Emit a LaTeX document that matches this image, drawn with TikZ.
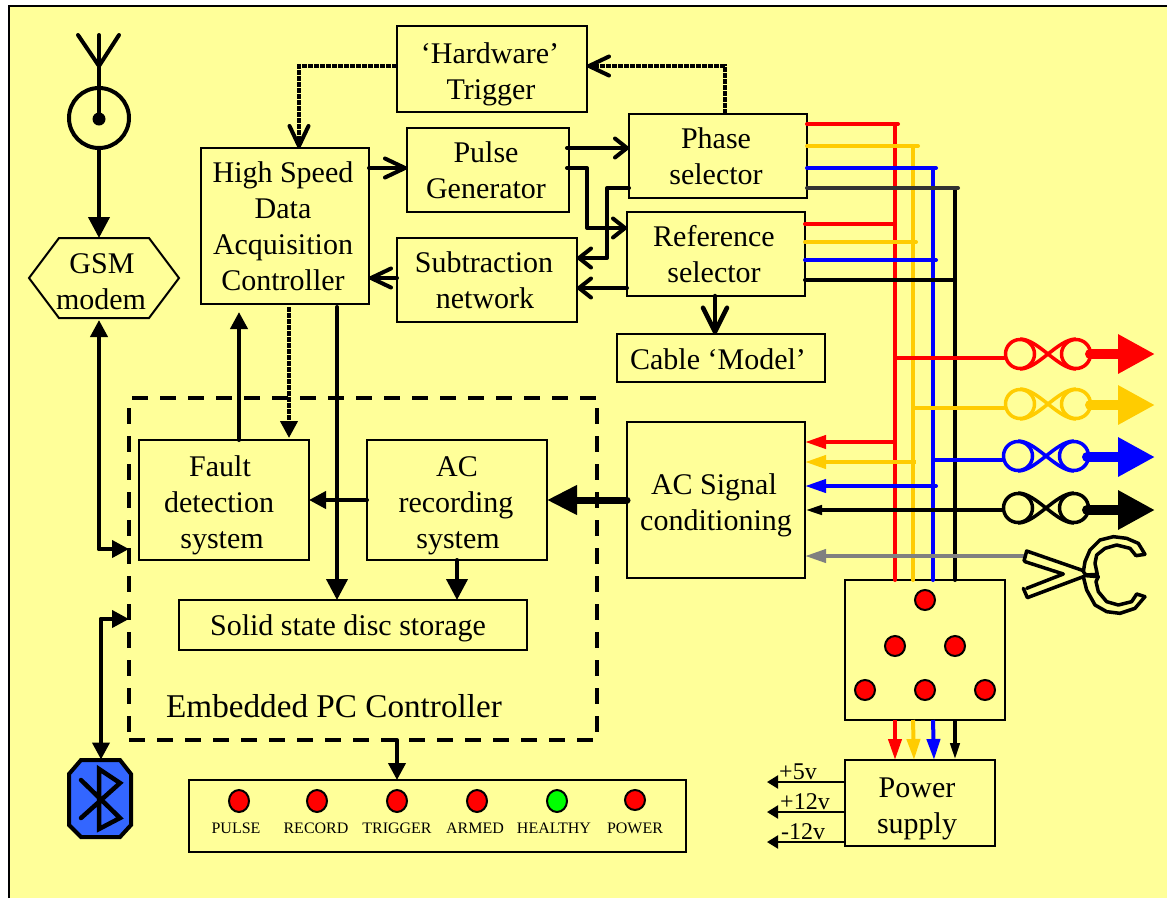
\documentclass[tikz,border=0pt]{standalone}
\usepackage{fontspec}
\setmainfont{Liberation Serif}
\usetikzlibrary{arrows.meta,shapes.geometric}
\definecolor{bgy}{HTML}{FFFF99}
\definecolor{wyel}{HTML}{FFCC00}
\definecolor{wdark}{HTML}{333333}
\definecolor{wgrey}{HTML}{808080}
\definecolor{btblue}{HTML}{3366FF}
\newcommand{\shx}[1]{\leavevmode\kern#1pt\kern#1pt\relax}
\newcommand{\firstl}[1]{\rule{0pt}{\dimexpr 20.5pt+#1pt+#1pt\relax}}
\tikzset{
  sz/.style 2 args={minimum width=#1pt,minimum height=#2pt},
  blk/.style={draw=black,line width=2pt,inner sep=0pt,outer sep=0pt,align=center,text=black,
    font=\fontsize{30}{36}\selectfont},
  txt/.style={inner sep=0pt,outer sep=0pt,align=center,text=black,font=\fontsize{30}{36}\selectfont},
  small/.style={inner sep=0pt,outer sep=0pt,text=black,font=\fontsize{16}{18}\selectfont},
  volt/.style={inner sep=0pt,outer sep=0pt,text=black,font=\fontsize{24}{26}\selectfont},
  led/.style={circle,draw=black,line width=2pt,fill=red,minimum size=20pt,inner sep=0pt,outer sep=0pt},
  ledo/.style={ellipse,draw=black,line width=2pt,fill=red,minimum width=20pt,minimum height=22pt,inner sep=0pt,outer sep=0pt},
  conn/.style={line width=4pt,line cap=round,line join=round},
  wire/.style={line width=4pt,line cap=round},
  densed/.style={line width=4pt,dash pattern=on 5pt off 1pt},
  pcdash/.style={line width=3.5pt,dash pattern=on 16pt off 12pt},
  opena/.style={-{Straight Barb[length=20pt,width=19pt,round]}},
  openb/.style={-{Straight Barb[length=12pt,width=19pt,round]}},
  openc/.style={-{Straight Barb[length=24pt,width=24pt,round]}},
  heada/.style={-{Triangle[width=17pt,length=17pt]}},
  headb/.style={-{Triangle[width=21pt,length=21pt]}},
  headc/.style={-{Triangle[width=13pt,length=21pt]}},
  headd/.style={-{Triangle[width=9pt,length=17pt]}},
  heade/.style={-{Triangle[width=13pt,length=11pt]}},
  bigh/.style={-{Triangle[width=37pt,length=37pt]},line width=10pt},
}
\newcommand{\twistpair}[3]{%
  \begin{scope}[shift={(#1,#2)},draw=#3,line width=3.5pt]
    \draw (-28,0) circle[radius=14.5];
    \draw (28,0) circle[radius=14.5];
    \draw (-28,-15) .. controls (-10,-15) and (10,15) .. (28,15);
    \draw (-28,15) .. controls (-10,15) and (10,-15) .. (28,-15);
  \end{scope}}
\begin{document}
\begin{tikzpicture}[x=1pt,y=-1pt]
\useasboundingbox (0,0) rectangle (1167,898);
\fill[white] (0,0) rectangle (1167,898);
\fill[bgy] (9,5.5) rectangle (1167,898);
\draw[line width=2pt] (9,898) -- (9,5.5) -- (1167,5.5);

% coloured bus: verticals first
\node[blk,sz={160}{140}] (plug) at (925,650) {};
\node[blk,sz={178}{84},fill=bgy] (phase) at (718,156) {\shx{-2}Phase\\\shx{-2}selector};
\node[blk,sz={178}{84},fill=bgy] (ref) at (716,254) {\shx{-2}Reference\\\shx{-2}selector};
\node[blk,sz={178}{156}] (acs) at (716,500) {\firstl{5}\shx{-2}AC Signal\\conditioning};
\node[blk,sz={150}{86}] (psu) at (920,803) {\firstl{5}\shx{-3}Power\\\shx{-3}supply};

\coordinate (vr) at (895,124);
\coordinate (vy) at (913,146);
\coordinate (vb) at (933,168);
\coordinate (vk) at (955,188);
\draw[wire,red] (vr) -- (vr |- plug.north);
\draw[wire,wyel] (vy) -- (vy |- plug.north);
\draw[wire,blue] (vb) -- (vb |- plug.north);
\draw[wire,black] (vk) -- (vk |- plug.north);

\draw[wire,red] (phase.east |- vr) -- (898,124);
\draw[wire,wyel] (phase.east |- vy) -- (918,146);
\draw[wire,blue] (phase.east |- vb) -- (936,168);
\draw[wire,wdark] (phase.east |- vk) -- (958,188);
\draw[wire,red] (ref.east |- 0,224) -- (895,224);
\draw[wire,wyel] (ref.east |- 0,242) -- (916,242);
\draw[wire,blue] (ref.east |- 0,260) -- (936,260);
\draw[wire,black] (ref.east |- 0,280) -- (955,280);

% twisted pairs
\twistpair{1048}{354}{red}
\twistpair{1048}{404}{wyel}
\twistpair{1046}{456}{blue}
\twistpair{1046}{508}{black}
\coordinate (tr) at (1004,358);
\coordinate (ty) at (1004,408);
\coordinate (tb) at (1002,460);
\coordinate (tk) at (1002,510);
\draw[wire,red] (vr |- tr) -- (tr);
\draw[wire,wyel] (vy |- ty) -- (ty);
\draw[wire,blue] (vb |- tb) -- (tb);
\coordinate (er) at (1155,354);
\coordinate (ey) at (1155,405);
\coordinate (eb) at (1155,457);
\coordinate (ek) at (1155,510);
\draw[bigh,red,line cap=round] (1090,354) -- (er);
\draw[bigh,wyel,line cap=round] (1090,405) -- (ey);
\draw[bigh,blue,line cap=round] (1087,457) -- (eb);
\draw[bigh,black,line cap=round] (1087,510) -- (ek);

% signals into conditioning
\draw[wire,red,headc,line cap=butt] (895,442) -- (acs.east |- 0,442);
\draw[wire,wyel,headc,line cap=butt] (916,462) -- (acs.east |- 0,462);
\draw[wire,blue,headc] (936,486) -- (acs.east |- 0,486);
\draw[wire,black,headd] (tk) -- (acs.east |- tk);
\draw[wire,wgrey,headc,line cap=butt] (1026,556) -- (acs.east |- 0,556);

% clamp
\begin{scope}[shift={(1010,525)},x=0.3333pt,y=-0.3333pt,line width=3.5pt,line join=round,line cap=round]
  \draw (42,108) -- (50,78) -- (220,137);
  \draw (45,110) -- (160,147) -- (50,190);
  \draw (40,190) -- (52,218) -- (220,155);
  \draw (405,88) -- (385,55) -- (350,40) -- (310,35) -- (270,45) -- (240,75) -- (225,110) -- (220,140) -- (228,150) -- (262,148);
  \draw (378,92) -- (405,88);
  \draw (378,92) -- (360,70) -- (320,60) -- (285,70) -- (260,90) -- (255,115) -- (262,148);
  \draw (405,215) -- (375,250) -- (330,265) -- (290,260) -- (255,240) -- (230,195) -- (220,155) -- (228,150);
  \draw (380,207) -- (405,215);
  \draw (380,207) -- (365,230) -- (325,240) -- (290,230) -- (265,200) -- (258,170) -- (265,155) -- (228,152);
\end{scope}

% plug pins
\node[led] (p1) at (925,600) {};
\node[led] (p2) at (895,646) {};
\node[led] (p3) at (955,646) {};
\node[led] (p4) at (865,690) {};
\node[led] (p5) at (925,690) {};
\node[led] (p6) at (985,690) {};

% to power supply
\draw[wire,red,headc,line cap=butt] (vr |- plug.south) -- (vr |- psu.north);
\draw[wire,wyel,headc,line cap=butt] (vy |- plug.south) -- (914,760);
\draw[wire,blue,headc,line cap=butt] (vb |- plug.south) -- (934,760);
\draw[wire,black,headd,line cap=butt] (vk |- plug.south) -- (vk |- psu.north);

% supply outputs
\coordinate (o1) at (767,782);
\coordinate (o2) at (767,812);
\coordinate (o3) at (767,842);
\draw[line width=2pt,heade] (psu.west |- o1) -- (o1);
\draw[line width=2pt,heade] (psu.west |- o2) -- (o2);
\draw[line width=2pt,heade] (psu.west |- o3) -- (o3);
\node[volt] (v1) at (798,772) {+5v};
\node[volt] (v2) at (805,802) {+12v};
\node[volt] (v3) at (803,832) {-12v};

% other boxes
\node[blk,sz={190}{86}] (hw) at (492,69) {\firstl{5}\shx{-2}‘Hardware’\\\shx{-1}Trigger};
\node[blk,sz={168}{156}] (hs) at (285,226) {\shx{-2}High Speed\\\shx{-2}Data\\\shx{-2}Acquisition\\\shx{-2}Controller};
\node[blk,sz={162}{84}] (pg) at (488,170) {\shx{-2}Pulse\\\shx{-2}Generator};
\node[blk,sz={180}{84}] (sub) at (487,280) {\shx{-3}Subtraction\\\shx{-2}network};
\node[blk,sz={208}{48}] (cab) at (721,358) {\firstl{1}\shx{-3}Cable ‘Model’};
\node[blk,sz={170}{120}] (fd) at (224,500) {\firstl{5}\shx{-4}Fault\\\shx{-5}detection\\\shx{-2}system};
\node[blk,sz={180}{120}] (acr) at (457,500) {\firstl{5}AC\\\shx{-1}recording\\\shx{1}system};
\node[blk,sz={348}{50}] (ssd) at (353,625) {\firstl{3}\shx{-5}Solid state disc storage};

% embedded PC outline
\node[sz={468}{342},inner sep=0pt,outer sep=0pt] (pc) at (363,569) {};
\draw[pcdash,dash phase=25pt] (pc.north west) -- (pc.north east);
\draw[pcdash,dash phase=18pt] (pc.north west) -- (pc.south west);
\draw[pcdash,dash phase=18pt] (pc.north east) -- (pc.south east);
\draw[pcdash] (pc.south west) -- (pc.south east);
\node[txt,font=\fontsize{33.2}{36}\selectfont] (pct) at (334,706) {Embedded PC Controller};

% control connectors
\coordinate (tc) at (299,66);
\coordinate (pt) at (725,66);
\draw[densed,opena] (hw.west |- tc) -- (tc) -- (tc |- hs.north);
\draw[densed,opena] (pt |- phase.north) -- (pt) -- (hw.east |- pt);
\draw[conn,opena] (hs.east |- 0,168) -- (pg.west |- 0,168);
\draw[conn,openb] (567,148) -- (phase.west |- 0,148);
\draw[conn,openb] (567,168) -- (587,168) -- (587,228) -- (ref.west |- 0,228);
\draw[conn,openb] (phase.west |- 0,188) -- (607,188) -- (607,258) -- (sub.east |- 0,258);
\draw[conn,openb] (ref.west |- 0,288) -- (sub.east |- 0,288);
\draw[conn,opena] (sub.west |- 0,278) -- (hs.east |- 0,278);
\draw[conn,openc,line width=4.5pt] (715,296) -- (715,334);
\draw[densed,heada] (289,307) -- (289,438);
\draw[conn,heada] (fd.north -| 239,0) -- (239,312);
\draw[wire,headb] (337,307) -- (ssd.north -| 337,0);
\draw[conn,heada] (acr.west) -- (fd.east);
\draw[wire,headb] (acr.south) -- (ssd.north -| acr.south);
\draw[line width=7pt,line cap=round,-{Triangle[width=28pt,length=30pt]}] (acs.west) -- (acr.east);

% GSM & antenna
\draw[line width=2pt,fill=bgy] (29,278) -- (59,238) -- (149,238) -- (179,278) -- (149,318) -- (59,318) -- cycle;
\node[txt,sz={150}{80}] (gsm) at (102,278) {\firstl{3}GSM\\\shx{-1}modem};
\node[circle,draw=black,line width=4pt,minimum size=60pt,inner sep=0pt,outer sep=0pt] (coax) at (99,118) {};
\node[circle,fill=black,minimum size=13pt,inner sep=0pt,outer sep=0pt] (pin) at (99,119) {};
\coordinate (ant) at (99,35);
\coordinate (al) at (78,35);
\coordinate (ar) at (119,35);
\coordinate (aj) at (99,66);
\draw[line width=4pt,line cap=round] (ant) -- (pin.center);
\draw[line width=4pt,line cap=round,line join=round] (al) -- (aj) -- (ar);
\draw[wire,headb] (coax.south) -- (gsm.north -| coax.south);

% bluetooth
\draw[line width=4pt,fill=btblue,line join=miter] (81,760) -- (120,760) -- (131,774) -- (131,825) -- (120,837) -- (81,837) -- (69,825) -- (69,774) -- cycle;
\draw[line width=4.5pt,line cap=round,line join=miter] (81,780) -- (120,818) -- (99,829) -- (99,769) -- (120,783) -- (81,818);
\node[sz={62}{78},inner sep=0pt,outer sep=0pt] (bt) at (100,798.5) {};

\coordinate (g1) at (99,549);
\coordinate (b1) at (101,619);
\draw[conn,{Triangle[width=17pt,length=17pt]}-] (99,320) -- (g1);
\draw[conn,heada] (g1) -- (pc.west |- g1);
\draw[conn,heada] (b1) -- (bt.north -| b1);
\draw[conn,heada] (b1) -- (pc.west |- b1);

% LED bar
\node[blk,sz={497}{72}] (bar) at (437.5,816) {};
\draw[conn,heada] (397,740) -- (397,780);
\node[ledo] (l1) at (239,801) {};
\node[ledo] (l2) at (317,801) {};
\node[ledo] (l3) at (397,801) {};
\node[ledo] (l4) at (477,801) {};
\node[ledo,fill=green] (l5) at (557,801) {};
\node[led] (l6) at (635,800) {};
\node[small] (t1) at (236,828) {PULSE};
\node[small] (t2) at (316,828) {RECORD};
\node[small] (t3) at (397,828) {TRIGGER};
\node[small] (t4) at (475,828) {ARMED};
\node[small] (t5) at (554,828) {HEALTHY};
\node[small] (t6) at (635,828) {POWER};
\end{tikzpicture}
\end{document}
